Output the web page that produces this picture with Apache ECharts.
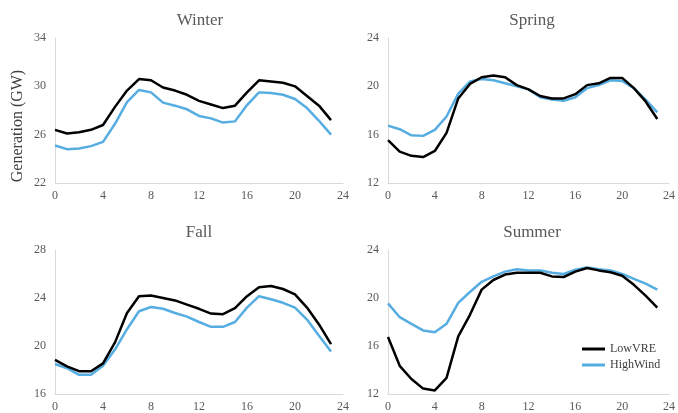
<!DOCTYPE html>
<html>
<head>
<meta charset="utf-8">
<script src="https://cdn.jsdelivr.net/npm/echarts@6/dist/echarts.min.js"></script>
<style>
  html, body { margin: 0; padding: 0; background: #fff; }
  #chart { width: 678px; height: 413px; }
</style>
</head>
<body>
<div id="chart"></div>
<script>
  var hours = [0, 1, 2, 3, 4, 5, 6, 7, 8, 9, 10, 11, 12, 13, 14, 15, 16, 17, 18, 19, 20, 21, 22, 23]

  var winterLow = [26.4, 26.1, 26.2, 26.4, 26.8, 28.3, 29.65, 30.6, 30.5, 29.9, 29.65, 29.3, 28.8, 28.5, 28.2, 28.4, 29.5, 30.5, 30.4, 30.3, 30.0, 29.2, 28.4, 27.2]
  var winterHigh = [25.1, 24.8, 24.85, 25.05, 25.4, 26.9, 28.7, 29.7, 29.5, 28.65, 28.4, 28.1, 27.55, 27.35, 27.0, 27.1, 28.45, 29.5, 29.45, 29.3, 28.95, 28.2, 27.15, 26.0]

  var springLow = [15.55, 14.6, 14.25, 14.15, 14.65, 16.15, 19.0, 20.2, 20.75, 20.9, 20.75, 20.1, 19.75, 19.2, 19.0, 19.0, 19.35, 20.1, 20.25, 20.7, 20.7, 19.85, 18.75, 17.3]
  var springHigh = [16.75, 16.45, 15.95, 15.9, 16.4, 17.5, 19.4, 20.4, 20.6, 20.5, 20.25, 20.0, 19.75, 19.1, 18.9, 18.8, 19.1, 19.85, 20.1, 20.5, 20.45, 19.85, 18.9, 17.85]

  var fallLow = [18.85, 18.3, 17.9, 17.9, 18.55, 20.3, 22.75, 24.15, 24.2, 24.0, 23.8, 23.45, 23.1, 22.7, 22.65, 23.15, 24.15, 24.9, 25.0, 24.75, 24.3, 23.2, 21.8, 20.15]
  var fallHigh = [18.5, 18.15, 17.6, 17.6, 18.35, 19.7, 21.4, 22.9, 23.25, 23.1, 22.75, 22.45, 22.0, 21.6, 21.6, 22.0, 23.2, 24.15, 23.9, 23.6, 23.2, 22.2, 20.85, 19.55]

  var summerLow = [16.75, 14.35, 13.25, 12.45, 12.3, 13.35, 16.8, 18.6, 20.7, 21.5, 21.95, 22.1, 22.1, 22.1, 21.8, 21.75, 22.2, 22.5, 22.3, 22.15, 21.85, 21.1, 20.2, 19.2]
  var summerHigh = [19.55, 18.4, 17.85, 17.3, 17.15, 17.85, 19.6, 20.5, 21.35, 21.8, 22.2, 22.4, 22.3, 22.3, 22.1, 22.0, 22.35, 22.55, 22.4, 22.3, 22.0, 21.6, 21.2, 20.7]

  var panelTitles = ['Winter', 'Spring', 'Fall', 'Summer']
  var yMins = [22, 12, 16, 12]
  var yMaxs = [34, 24, 28, 24]
  var lowSets = [winterLow, springLow, fallLow, summerLow]
  var highSets = [winterHigh, springHigh, fallHigh, summerHigh]
  var yTitle = 'Generation (GW)'

  var serif = '"Liberation Serif", "DejaVu Serif", serif'
  var lowColor = '#000000'
  var highColor = '#56ade2'

  // panel boxes: left, right, top, height
  var boxes = [
    { left: 55, right: 335, top: 38, height: 145 },
    { left: 388, right: 3, top: 38, height: 145 },
    { left: 55, right: 335, top: 250, height: 145 },
    { left: 388, right: 3, top: 250, height: 144 }
  ]
  var titlePos = [[195, 7], [527, 7], [194, 219], [527, 219]]

  function pairs (vals) {
    return hours.map(function (h, i) { return [h, vals[i]] })
  }

  var grids = []
  var xAxes = []
  var yAxes = []
  var series = []
  var titles = []
  for (var i = 0; i < 4; i++) {
    grids.push(boxes[i])
    titles.push({
      text: panelTitles[i],
      left: titlePos[i][0],
      top: titlePos[i][1],
      textAlign: 'center',
      textStyle: { fontFamily: serif, fontSize: 17, fontWeight: 'normal', color: '#595959' }
    })
    xAxes.push({
      gridIndex: i,
      type: 'value',
      min: 0,
      max: 24,
      interval: 4,
      axisLine: { lineStyle: { color: '#d9d9d9', width: 1 } },
      axisTick: { show: false },
      splitLine: { show: false },
      axisLabel: { fontFamily: serif, fontSize: 12, color: '#595959', margin: 7 }
    })
    yAxes.push({
      gridIndex: i,
      type: 'value',
      min: yMins[i],
      max: yMaxs[i],
      interval: 4,
      axisLine: { show: true, lineStyle: { color: '#d9d9d9', width: 1 } },
      axisTick: { show: false },
      splitLine: { show: false },
      axisLabel: { fontFamily: serif, fontSize: 12, color: '#595959', margin: 9 }
    })
    series.push({
      name: 'LowVRE',
      type: 'line',
      xAxisIndex: i,
      yAxisIndex: i,
      showSymbol: false,
      lineStyle: { color: lowColor, width: 2.5 },
      itemStyle: { color: lowColor },
      data: pairs(lowSets[i]),
      z: 3
    })
    series.push({
      name: 'HighWind',
      type: 'line',
      xAxisIndex: i,
      yAxisIndex: i,
      showSymbol: false,
      lineStyle: { color: highColor, width: 2.5 },
      itemStyle: { color: highColor },
      data: pairs(highSets[i]),
      z: 2
    })
  }

  var chart = echarts.init(document.getElementById('chart'))
  chart.setOption({
    animation: false,
    backgroundColor: '#ffffff',
    title: titles,
    grid: grids,
    xAxis: xAxes,
    yAxis: yAxes,
    graphic: [{
      type: 'text',
      x: 18,
      y: 126,
      rotation: Math.PI / 2,
      style: {
        text: yTitle,
        fontFamily: serif,
        fontSize: 16,
        fill: '#404040',
        align: 'center',
        verticalAlign: 'middle'
      }
    }],
    legend: {
      data: ['LowVRE', 'HighWind'],
      orient: 'vertical',
      left: 577,
      top: 338,
      icon: 'rect',
      itemWidth: 23,
      itemHeight: 3,
      itemGap: 4,
      textStyle: { fontFamily: serif, fontSize: 12, color: '#404040' }
    },
    series: series
  })
</script>
</body>
</html>
